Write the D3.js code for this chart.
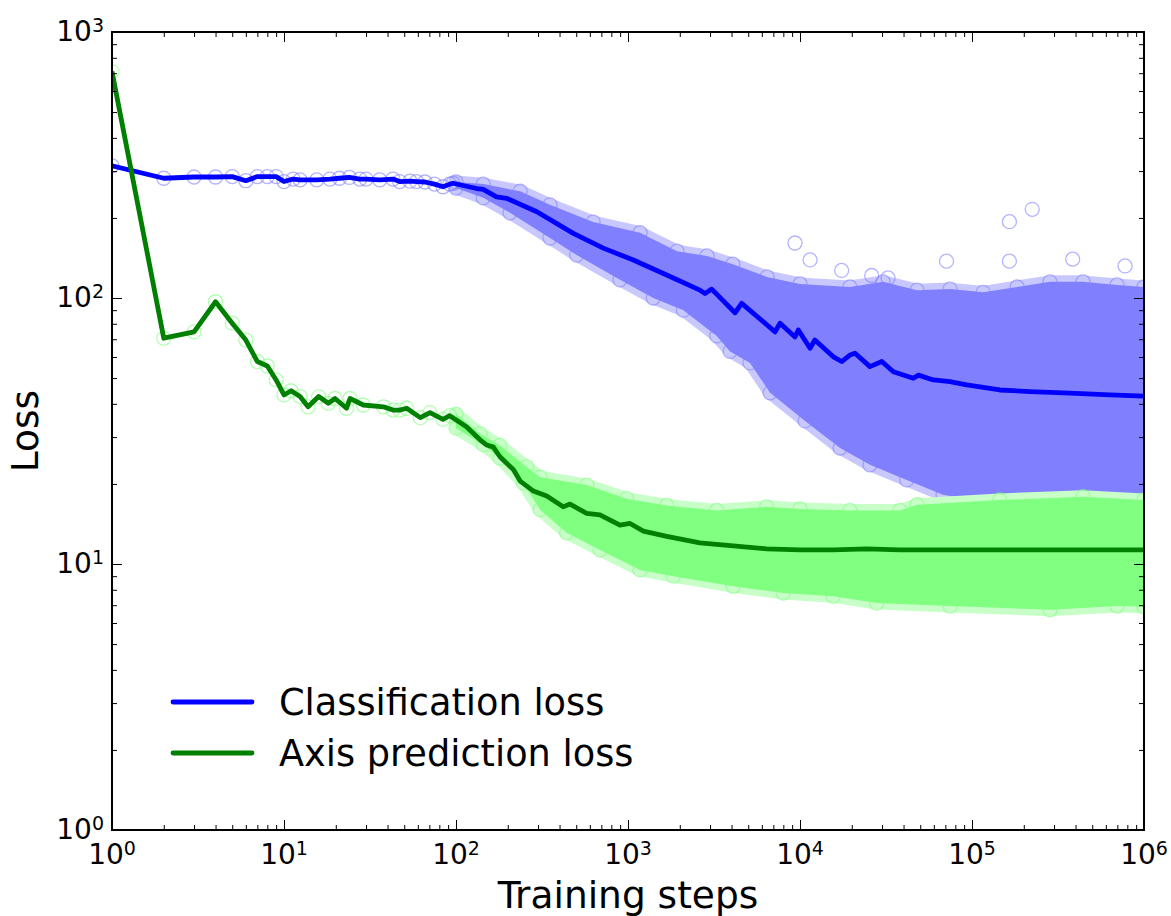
<!DOCTYPE html>
<html>
<head>
<meta charset="utf-8">
<title>Loss vs training steps</title>
<style>
  html, body { margin: 0; padding: 0; background: #fff; }
  svg { display: block; font-family: "DejaVu Sans", sans-serif; }
  .tick line { stroke: #000; stroke-width: 1; }
  .tick-label { font-size: 28px; fill: #000; }
  .axis-label { font-size: 37.5px; fill: #000; }
  .legend-label { font-size: 36.7px; fill: #000; }
</style>
<script src="https://d3js.org/d3.v7.min.js"></script>
</head>
<body>
<div id="chart"></div>
<script>
// ---- data ----
// running (smoothed) losses
const blueSteps = [1, 2, 3, 4, 5, 6, 7, 8, 9, 10, 11.3, 12.4, 15.5, 18.5, 21, 24, 27.6, 30, 36, 43, 47, 54, 59, 66, 75, 84, 92, 96,
  132, 144, 172, 197, 295, 481, 718, 1074, 1679, 2620, 2804, 3067, 4190, 4580, 7160, 7650, 9350, 9780, 11440, 12200,
  15630, 17470, 19500, 20900, 25500, 29900, 34900, 45600, 48800, 59600, 74500, 93100, 145000, 217000, 371000, 634000, 1000000];
const blueLoss = [314, 282, 285, 285, 286, 276, 286, 286, 286, 274, 280, 278, 278, 280, 282, 284, 280, 280, 278, 280, 274, 275, 274, 273, 268, 262, 268, 270,
  258, 256, 240, 237, 211, 175, 154, 139, 122, 107, 104, 108, 88, 95.5, 74.6, 80.4, 71.4, 75.8, 64.7, 69.5,
  60.1, 57.7, 61, 62, 55.2, 57.7, 52.8, 49.9, 51.3, 49.2, 48.5, 47.1, 45.1, 44.5, 43.9, 43.2, 42.8];

const greenSteps = [1, 2, 3, 4, 5, 6, 7, 8, 9, 10, 11, 12.4, 13.8, 15.9, 18.1, 19.8, 23.1, 24.2, 28.9, 37.8, 43, 47, 51.7, 62, 70.6, 84, 92,
  115, 138, 151, 165, 180, 216, 236, 282, 337, 420, 460, 575, 687, 898, 1028, 1228, 1679, 2620, 4090, 6400,
  10000, 15600, 24400, 38100, 100000, 300000, 1000000];
const greenLoss = [710, 70.6, 74.6, 96.8, 80.4, 69.5, 57.7, 55.5, 49.2, 43.2, 44.8, 42.6, 39, 42.6, 40.2, 41.9, 38.5, 41.9, 39.6, 39, 37.9, 37.9, 38.5, 35.5, 37.1, 35.0, 36.1,
  32.8, 29.3, 28.0, 27.5, 25.3, 22.6, 20.5, 18.8, 18.0, 16.4, 16.8, 15.5, 15.3, 14.0, 14.2, 13.3, 12.7, 12.0, 11.7, 11.4,
  11.3, 11.3, 11.4, 11.3, 11.3, 11.3, 11.3];

// outer extent of the raw per-step scatter
const blueUpperSteps = [100, 144, 236, 352, 627, 1175, 1926, 2880, 4070, 6430, 10000, 19500, 30400, 47900, 74500, 116000, 183000, 284000, 442000, 697000, 1000000];
const blueUpper = [273, 268, 252, 224, 193, 176, 150, 144, 134, 120, 113, 110, 115, 107, 108, 105, 110, 115, 115, 112, 110];
const blueLowerSteps = [100, 144, 206, 352, 503, 898, 1403, 2098, 3280, 3920, 5120, 6700, 10700, 17100, 25500, 41700, 67800, 145000, 1000000];
const blueLower = [259, 238, 209, 168, 145, 117, 100, 90, 72, 63, 57, 44, 34.5, 27.3, 23.6, 20.7, 18.2, 16.7, 16.5];

const greenUpperSteps = [100, 138, 180, 258, 308, 575, 983, 1679, 3280, 6400, 10000, 19500, 38100, 47900, 145000, 442000, 1000000];
const greenUpper = [36.6, 30.9, 27.9, 23.2, 21.2, 19.8, 17.6, 16.6, 15.9, 16.4, 16.1, 15.9, 15.9, 16.7, 17.4, 17.9, 17.4];
const greenLowerSteps = [100, 144, 180, 246, 308, 440, 687, 1175, 1834, 4090, 8000, 15600, 27900, 74500, 284000, 697000, 1000000];
const greenLower = [32.4, 28.1, 25, 20.2, 16.0, 13.1, 11.3, 9.5, 9.0, 8.25, 7.78, 7.56, 7.13, 6.95, 6.73, 6.95, 6.9];

// stray classification points above the cloud
const blueOutlierSteps = [9350, 11440, 17470, 26100, 32500, 71100, 165000, 165000, 224000, 385000, 776000];
const blueOutliers = [161, 139, 127, 121.5, 119, 137.6, 137.6, 193.6, 215.5, 140, 132];

const xTickValues = [1, 10, 100, 1000, 10000, 100000, 1000000];
const xTickExp = ["0", "1", "2", "3", "4", "5", "6"];
const yTickValues = [1, 10, 100, 1000];
const yTickExp = ["0", "1", "2", "3"];
const legendNames = ["Classification loss", "Axis prediction loss"];

// ---- layout ----
const width = 1171, height = 916;
const margin = {top: 32, right: 27, bottom: 86, left: 112};
const innerW = width - margin.left - margin.right;
const innerH = height - margin.top - margin.bottom;

const x = d3.scaleLog().domain([1, 1e6]).range([margin.left, width - margin.right]);
const y = d3.scaleLog().domain([1, 1000]).range([height - margin.bottom, margin.top]);

const svg = d3.select("#chart").append("svg")
  .attr("width", width)
  .attr("height", height);

svg.append("defs").append("clipPath").attr("id", "plot-clip")
  .append("rect")
  .attr("x", margin.left).attr("y", margin.top)
  .attr("width", innerW).attr("height", innerH);

const plot = svg.append("g").attr("clip-path", "url(#plot-clip)");

const pairs = (xs, ys) => xs.map((s, i) => [s, ys[i]]);
const line = d3.line().x(d => x(d[0])).y(d => y(d[1]));

function drawCloud(color, edge, steps, vals, upS, up, loS, lo, extraS, extra) {
  const g = plot.append("g");
  const upper = pairs(upS, up);
  const lower = pairs(loS, lo).reverse();
  const outline = line(upper.concat(lower)) + "Z";

  // light fringe where the markers thin out, then the dense core
  g.append("path")
    .attr("d", outline)
    .attr("fill", "none")
    .attr("stroke", edge)
    .attr("stroke-width", 13)
    .attr("stroke-linejoin", "round");
  g.append("path")
    .attr("d", outline)
    .attr("fill", color);

  // individual markers: early steps, envelope and strays
  const early = pairs(steps, vals).filter(d => d[0] <= 100);
  const marks = early.concat(pairs(upS, up), pairs(loS, lo), pairs(extraS, extra));
  g.selectAll("circle")
    .data(marks)
    .enter()
    .append("circle")
    .attr("cx", d => x(d[0]))
    .attr("cy", d => y(d[1]))
    .attr("r", 7)
    .attr("fill", "none")
    .attr("stroke", color)
    .attr("stroke-opacity", 0.6)
    .attr("stroke-width", 1.3);
}

drawCloud("#8080ff", "#c8c8ff", blueSteps, blueLoss, blueUpperSteps, blueUpper, blueLowerSteps, blueLower, blueOutlierSteps, blueOutliers);
drawCloud("#80ff80", "#c8ffc8", greenSteps, greenLoss, greenUpperSteps, greenUpper, greenLowerSteps, greenLower, [], []);

plot.append("path")
  .datum(pairs(blueSteps, blueLoss))
  .attr("d", line)
  .attr("fill", "none")
  .attr("stroke", "#0000ff")
  .attr("stroke-width", 4.8)
  .attr("stroke-linejoin", "round");

plot.append("path")
  .datum(pairs(greenSteps, greenLoss))
  .attr("d", line)
  .attr("fill", "none")
  .attr("stroke", "#008000")
  .attr("stroke-width", 4.8)
  .attr("stroke-linejoin", "round");

// ---- ticks (inward, all four sides) ----
function minors(lo, hi) {
  const out = [];
  for (let e = lo; e < hi; e++) for (let m = 2; m <= 9; m++) out.push(m * Math.pow(10, e));
  return out;
}
const xMinor = minors(0, 6);
const yMinor = minors(0, 3);

function addTicks(axis, values, size, transform) {
  const g = svg.append("g")
    .attr("transform", transform)
    .call(axis.tickValues(values).tickSize(-size).tickFormat(""));
  g.select(".domain").remove();
}
const bottomY = height - margin.bottom, rightX = width - margin.right;
addTicks(d3.axisBottom(x), xTickValues, 10, `translate(0,${bottomY})`);
addTicks(d3.axisBottom(x), xMinor, 5, `translate(0,${bottomY})`);
addTicks(d3.axisTop(x), xTickValues, 10, `translate(0,${margin.top})`);
addTicks(d3.axisTop(x), xMinor, 5, `translate(0,${margin.top})`);
addTicks(d3.axisLeft(y), yTickValues, 10, `translate(${margin.left},0)`);
addTicks(d3.axisLeft(y), yMinor, 5, `translate(${margin.left},0)`);
addTicks(d3.axisRight(y), yTickValues, 10, `translate(${rightX},0)`);
addTicks(d3.axisRight(y), yMinor, 5, `translate(${rightX},0)`);

svg.append("rect")
  .attr("x", margin.left).attr("y", margin.top)
  .attr("width", innerW).attr("height", innerH)
  .attr("fill", "none")
  .attr("stroke", "#000")
  .attr("stroke-width", 2);

// tick labels as 10 with a superscript exponent
function powerLabel(sel) {
  sel.append("tspan").text("10");
  sel.append("tspan")
    .attr("dy", -9)
    .attr("font-size", 19)
    .text(d => d.exp);
}

svg.append("g").selectAll("text")
  .data(xTickValues.map((v, i) => ({v, exp: xTickExp[i]})))
  .enter()
  .append("text")
  .attr("class", "tick-label")
  .attr("x", d => x(d.v))
  .attr("y", bottomY + 34)
  .attr("text-anchor", "middle")
  .call(powerLabel);

svg.append("g").selectAll("text")
  .data(yTickValues.map((v, i) => ({v, exp: yTickExp[i]})))
  .enter()
  .append("text")
  .attr("class", "tick-label")
  .attr("x", margin.left - 8)
  .attr("y", d => y(d.v) + 9)
  .attr("text-anchor", "end")
  .call(powerLabel);

svg.append("text")
  .attr("class", "axis-label")
  .attr("x", margin.left + innerW / 2)
  .attr("y", 908)
  .attr("text-anchor", "middle")
  .text("Training steps");

svg.append("text")
  .attr("class", "axis-label")
  .attr("transform", `translate(38,${margin.top + innerH / 2}) rotate(-90)`)
  .attr("text-anchor", "middle")
  .text("Loss");

// ---- legend (no frame) ----
const legendColors = ["#0000ff", "#008000"];
const legend = svg.append("g").selectAll("g")
  .data(legendNames)
  .enter()
  .append("g")
  .attr("transform", (d, i) => `translate(173,${702 + i * 51})`);
legend.append("line")
  .attr("x1", 0).attr("x2", 79)
  .attr("stroke", (d, i) => legendColors[i])
  .attr("stroke-width", 4.8)
  .attr("stroke-linecap", "round");
legend.append("text")
  .attr("class", "legend-label")
  .attr("x", 106)
  .attr("y", 13)
  .text(d => d);
</script>
</body>
</html>
